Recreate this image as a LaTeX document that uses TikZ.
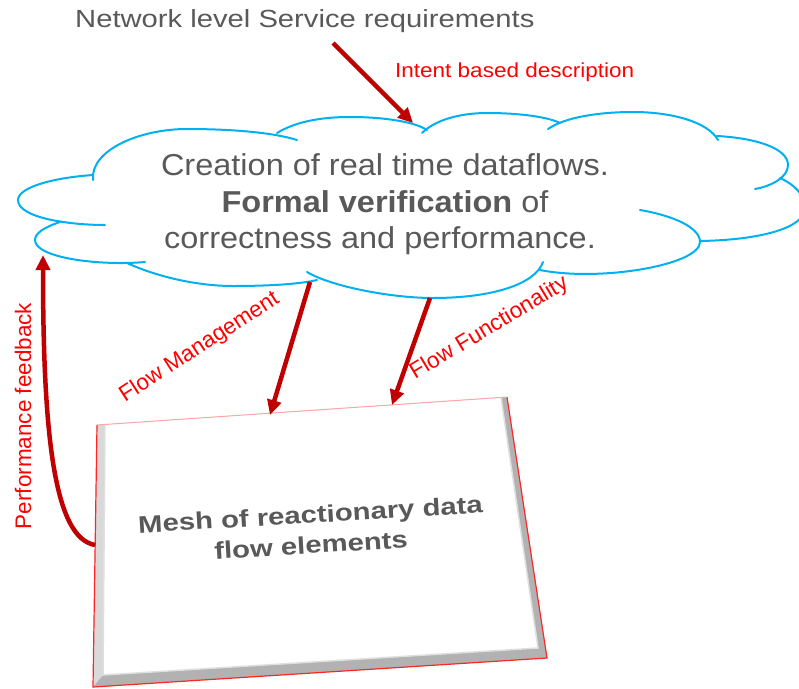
\documentclass[tikz,border=0pt]{standalone}
\usepackage{fontspec}
\setmainfont{Liberation Sans}
\usetikzlibrary{arrows.meta}
\definecolor{txtgray}{HTML}{595959}
\definecolor{cloudblue}{HTML}{00B0F0}
\definecolor{arrowred}{HTML}{C00000}
\definecolor{lblred}{HTML}{FF0000}
\newcommand{\squash}[2]{\scalebox{1}[#1]{#2}}

\begin{document}
\begin{tikzpicture}[x=1pt,y=-1pt,
  cloudline/.style={draw=cloudblue, line width=2pt, line cap=round},
  fatarrow/.style={draw=arrowred, line width=4.5pt, -{Triangle[width=14pt,length=15pt]}},
  lbl/.style={text=lblred, inner sep=0pt, font=\fontsize{22.5}{27}\selectfont},
  cloudtxt/.style={text=txtgray, inner sep=0pt, anchor=base, font=\fontsize{32.5}{36}\selectfont},
  boxtxt/.style={text=txtgray, inner sep=0pt, anchor=base, rotate=3.4, font=\fontsize{29.3}{31}\selectfont\bfseries}]
\clip (0,0) rectangle (799,688);

% ---- title and its label ----
\node[text=txtgray, inner sep=0pt, anchor=base west, font=\fontsize{29.2}{34}\selectfont]
  (title) at (75,27) {\squash{0.85}{Network level Service requirements}};
\node[lbl, anchor=base west] (intent) at (395,77) {\squash{0.9}{Intent based description}};

% ---- cloud outline, one lobe per path ----
\draw[cloudline] (93,180) .. controls (90,150) and (140,129) .. (187,129)
                          .. controls (235,129) and (275,133) .. (297,140);
\draw[cloudline] (277,133) .. controls (295,122) and (320,117) .. (350,117)
                           .. controls (385,117) and (415,122) .. (427,130);
\draw[cloudline] (422,133) .. controls (435,120) and (460,113) .. (487,113)
                           .. controls (520,113) and (548,117) .. (560,123);
\draw[cloudline] (548,129) .. controls (565,117) and (600,112) .. (633,112)
                           .. controls (672,112) and (708,122) .. (718,140);
\draw[cloudline] (717,136) .. controls (755,138) and (788,148) .. (788,165)
                           .. controls (788,177) and (772,186) .. (755,189);
\draw[cloudline] (780,178) .. controls (795,185) and (805,195) .. (805,208)
                           .. controls (805,228) and (760,240) .. (700,241);
\draw[cloudline] (640,210) .. controls (675,216) and (700,228) .. (700,242)
                           .. controls (700,265) and (600,282) .. (540,270);
\draw[cloudline] (307,272) .. controls (330,286) and (390,298) .. (433,298)
                           .. controls (490,298) and (535,285) .. (543,262);
\draw[cloudline] (127,263) .. controls (160,278) and (200,286) .. (233,286)
                           .. controls (270,286) and (300,284) .. (317,280);
\draw[cloudline] (60,222) .. controls (42,228) and (35,234) .. (35,240)
                          .. controls (35,258) and (100,266) .. (145,262);
\draw[cloudline] (93,175) .. controls (50,178) and (18,188) .. (18,200)
                          .. controls (18,218) and (70,225) .. (105,225);

% ---- cloud text ----
\node[cloudtxt] (c1) at (385,175) {\squash{0.93}{Creation of real time dataflows.}};
\node[cloudtxt] (c2) at (385,212) {\squash{0.93}{\textbf{Formal verification} of}};
\node[cloudtxt] (c3) at (380,248) {\squash{0.93}{correctness and performance.}};

% ---- bevelled panel ----
\coordinate (oTL) at (97,425);
\coordinate (oTR) at (507,397);
\coordinate (oBR) at (547,658);
\coordinate (oBL) at (93,687);
\coordinate (iTL) at (105,424.5);
\coordinate (iTR) at (501,397.5);
\coordinate (iBR) at (538,648);
\coordinate (iBL) at (103,675);
\fill[gray!60] (oTL) -- (oTR) -- (oBR) -- (oBL) -- cycle;
\fill[gray!30] (oTL) -- (iTL) -- (iBL) -- (oBL) -- cycle;
\fill[white] (iTL) -- (iTR) -- (iBR) -- (iBL) -- cycle;
\draw[gray!25, line width=1.5pt] (iTL) -- (iBL) -- (iBR) -- (iTR);
\draw[red!85, line width=1.2pt] (oTL) -- (oBL) -- (oBR) -- (oTR);
\draw[red!35, line width=1pt] (oTL) -- (oTR);

\node[boxtxt] (m1) at (311,523) {\squash{0.82}{Mesh of reactionary data}};
\node[boxtxt] (m2) at (311.5,553.6) {\squash{0.82}{flow elements}};

% ---- connectors ----
\coordinate (intentStart) at (333,43);
\coordinate (intentEnd) at (413,123);
\coordinate (mgmtStart) at (310,282);
\coordinate (mgmtEnd) at (270,415);
\coordinate (funcStart) at (430,298);
\coordinate (funcEnd) at (392,405);
\coordinate (fbStart) at (95,545);
\coordinate (fbEnd) at (43,255);
\draw[fatarrow] (intentStart) -- (intentEnd);
\draw[fatarrow] (mgmtStart) -- (mgmtEnd);
\draw[fatarrow] (funcStart) -- (funcEnd);
\draw[fatarrow] (fbStart) .. controls (55,538) and (43,440) .. (fbEnd);

% ---- connector labels ----
\node[lbl, anchor=base west, rotate=33] (mgmt) at (125,403) {Flow Management};
\node[lbl, anchor=base west, rotate=31] (func) at (415,380) {Flow Functionality};
\node[lbl, anchor=base, rotate=90] (fb) at (31,416) {Performance feedback};
\end{tikzpicture}
\end{document}
